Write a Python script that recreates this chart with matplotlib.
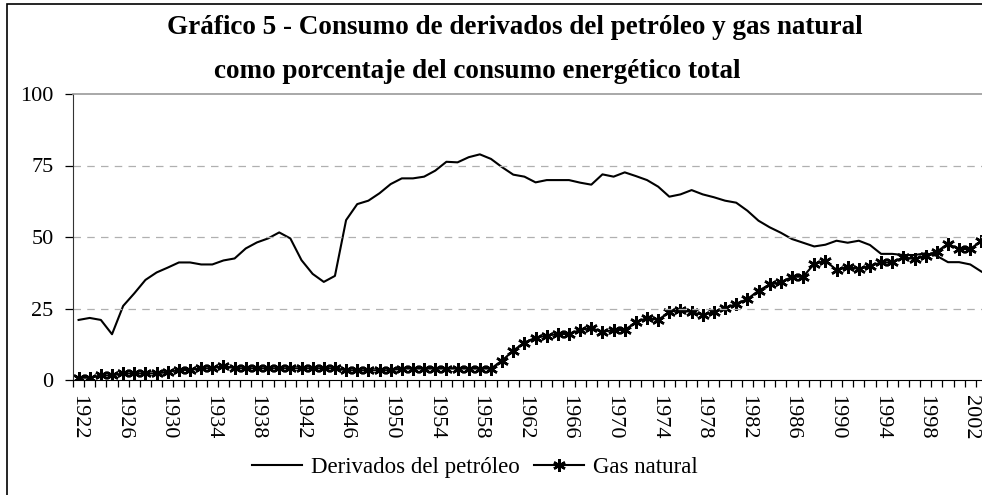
import numpy as np
import matplotlib.pyplot as plt
from matplotlib.patches import Rectangle

plt.rcParams['font.family'] = ['Liberation Serif', 'DejaVu Serif']

# años 1922-2003
years = list(range(1922, 2004))

derivados = [21.0, 21.7, 21.0, 16.0, 25.9, 30.3, 35.0, 37.6, 39.3, 41.1,
             41.1, 40.4, 40.4, 41.8, 42.5, 46.0, 48.1, 49.5, 51.6, 49.5,
             41.9, 37.1, 34.3, 36.4, 55.9, 61.5, 62.7, 65.3, 68.5, 70.5,
             70.5, 71.1, 73.2, 76.3, 76.1, 77.9, 78.9, 77.3, 74.4, 71.8,
             71.1, 69.1, 69.9, 69.9, 69.9, 69.0, 68.3, 71.9, 71.1, 72.6,
             71.3, 69.9, 67.6, 64.1, 64.9, 66.4, 64.9, 63.9, 62.7, 62.0,
             59.2, 55.7, 53.4, 51.5, 49.3, 48.0, 46.7, 47.3, 48.7, 48.0,
             48.7, 47.2, 44.1, 44.1, 43.7, 43.7, 44.3, 43.4, 41.2, 41.2,
             40.4, 37.9]

gas_natural = [0.8, 0.8, 1.6, 1.6, 2.3, 2.3, 2.3, 2.3, 2.8, 3.5,
               3.5, 4.1, 4.1, 4.9, 4.1, 4.1, 4.1, 4.1, 4.1, 4.1,
               4.1, 4.1, 4.1, 4.1, 3.4, 3.4, 3.4, 3.4, 3.4, 4.0,
               4.0, 4.0, 4.0, 4.0, 4.0, 4.0, 4.0, 4.0, 6.8, 10.3,
               13.1, 14.8, 15.5, 16.1, 16.1, 17.5, 18.2, 16.8, 17.5, 17.5,
               20.2, 21.7, 21.0, 23.8, 24.5, 23.7, 22.8, 23.7, 25.1, 26.6,
               28.3, 31.2, 33.4, 34.1, 36.1, 36.1, 40.6, 41.7, 38.5, 39.6,
               38.8, 39.9, 41.1, 41.1, 42.9, 42.3, 43.5, 44.9, 47.6, 45.8,
               45.8, 48.7]

W, H = 982, 495
fig = plt.figure(figsize=(W / 100, H / 100), dpi=100)

# marco exterior (recortado a la derecha y abajo)
fig.patches.append(Rectangle((7 / W, -0.1), 1.2, 1 - 4 / H + 0.1,
                             transform=fig.transFigure, fill=False,
                             edgecolor='black', linewidth=1.2))

ax = fig.add_axes([73 / W, 1 - 380 / H, 914 / W, 286 / H])

ax.plot(years, derivados, color='black', lw=1.5, label='Derivados del petróleo')
ax.plot(years, gas_natural, color='black', lw=1.5, marker=(6, 2, 0),
        markersize=9, markeredgewidth=1.8, label='Gas natural')

ax.set_xlim(1921.5, 2003.5)
ax.set_ylim(0, 100)
ax.set_yticks([0, 25, 50, 75, 100])
for v in [25, 50, 75]:
    ax.axhline(v, color='#b0b0b0', lw=0.9, dashes=(6, 5))

ax.set_xticks(years[::4])
ax.set_xticklabels([str(y) for y in years[::4]], rotation=270)
ax.set_xticks(np.arange(1921.5, 2004, 1), minor=True)
ax.tick_params(axis='x', which='major', length=0, pad=11, labelsize=16)
ax.tick_params(axis='x', which='minor', length=5, width=0.9, direction='out')
ax.tick_params(axis='y', length=6, width=0.9, pad=8, labelsize=16)

ax.spines['top'].set_color('#999999')
ax.spines['top'].set_linewidth(1.2)
ax.spines['right'].set_visible(False)
ax.spines['left'].set_color('#333333')
ax.spines['bottom'].set_color('black')

fig.text(515 / W, 1 - 28 / H, 'Gráfico 5 - Consumo de derivados del petróleo y gas natural',
         ha='center', va='center', fontsize=19.5, fontweight='bold')
fig.text(477 / W, 1 - 71 / H, 'como porcentaje del consumo energético total',
         ha='center', va='center', fontsize=19.5, fontweight='bold')

fig.legend(loc='center', bbox_to_anchor=(475 / W, 1 - 467 / H), ncol=2,
           frameon=False, fontsize=16.5, handlelength=2.2, handletextpad=0.4,
           columnspacing=0.6, borderpad=0)

fig.savefig('out.png', dpi=100)
